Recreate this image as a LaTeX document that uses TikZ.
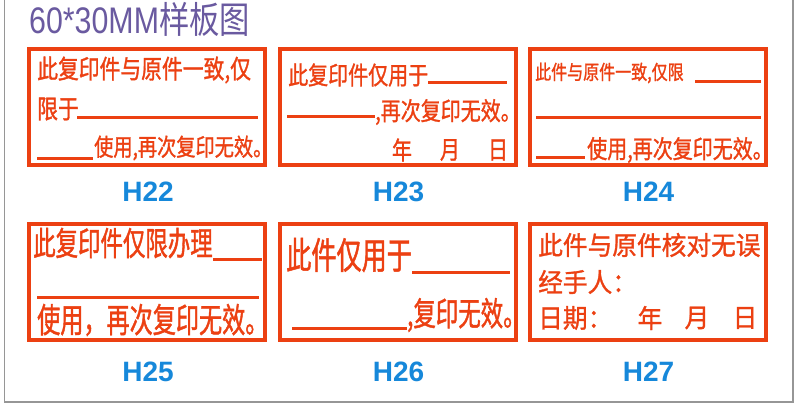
\documentclass[tikz,border=0pt]{standalone}
\usepackage{fontspec}
\setmainfont{Liberation Sans}
\newfontfamily\titlefont[FakeStretch=0.82]{Liberation Sans}
\newfontfamily\titlecjk[FakeStretch=0.82]{Noto Sans CJK SC}
\newfontfamily\cjkmid[FakeStretch=0.8, FakeBold=1.2]{Noto Sans CJK SC}
\newfontfamily\cjknarrow[FakeStretch=0.68, FakeBold=1.2]{Noto Sans CJK SC}
\newfontfamily\cjkwide[FakeStretch=0.95, FakeBold=1.2]{Noto Sans CJK SC}
\newcommand{\stampsize}[1]{\fontsize{#1}{#1}\selectfont}
\definecolor{stampred}{RGB}{236,64,18}
\definecolor{hblue}{RGB}{22,136,218}
\definecolor{titlepurple}{RGB}{106,90,160}
\definecolor{framegray}{RGB}{150,150,150}
\tikzset{
  stampbox/.style={draw=stampred, line width=4pt, minimum width=236pt, minimum height=116pt, inner sep=0},
  stamptext/.style={text=stampred, inner sep=0, anchor=west},
  blank/.style={draw=stampred, line width=3pt},
  code/.style={text=hblue, font=\bfseries\stampsize{28}, inner sep=0}
}
\begin{document}
\begin{tikzpicture}[x=1pt, y=-1pt,
  s22/.style={stamptext, font=\cjkmid\stampsize{26}},
  s23/.style={stamptext, font=\cjkmid\stampsize{25}},
  s25/.style={stamptext, font=\cjknarrow\stampsize{34}},
  s26/.style={stamptext, font=\cjknarrow\stampsize{37}},
  s27/.style={stamptext, font=\cjkwide\stampsize{26}}]
  \useasboundingbox[fill=white] (0,0) rectangle (800,406);
  \draw[framegray, line width=1.2pt] (4.5,0) -- (4.5,402) -- (793,402) -- (793,0);
  \node[anchor=base west, inner sep=0, text=titlepurple] (title) at (29,34)
    {\titlefont\stampsize{37}60*30MM\titlecjk 样板图};
  \foreach \n/\x/\y/\ly in {22/147/107/192, 23/397.5/107/192, 24/647.5/107/192,
                            25/147/281.5/372, 26/397.5/281.5/372, 27/647.5/281.5/372}{
    \node[stampbox] (b\n) at (\x,\y) {};
    \node[code] (h\n) at (\x+1,\ly) {H\n};
  }

  \node[s22] (t22a) at (37,70) {此复印件与原件一致,仅};
  \node[s22] (t22b) at (37,109) {限于};
  \draw[blank] (77,118) -- (258,118);
  \draw[blank] (37,159) -- (93,159);
  \node[s22, font=\cjkmid\stampsize{24}] (t22c) at (94,148) {使用,再次复印无效。};

  \node[s23] (t23a) at (288,75) {此复印件仅用于};
  \draw[blank] (428,83) -- (507,83);
  \draw[blank] (287,117) -- (375,117);
  \node[s23] (t23b) at (375,112) {,再次复印无效。};
  \node[s23, anchor=center] (t23y) at (402,150) {年};
  \node[s23, anchor=center] (t23m) at (450,150) {月};
  \node[s23, anchor=center] (t23d) at (498,150) {日};

  \node[stamptext, font=\cjkmid\stampsize{20}] (t24a) at (535,73) {此件与原件一致,仅限};
  \draw[blank] (695,82) -- (761,82);
  \draw[blank] (536,118) -- (761,118);
  \draw[blank] (536,158) -- (585,158);
  \node[s23] (t24b) at (587,150) {使用,再次复印无效。};

  \node[s25, font=\cjknarrow\stampsize{33}] (t25a) at (33,243) {此复印件仅限办理};
  \draw[blank] (213,259) -- (262,259);
  \draw[blank] (37,297) -- (259,297);
  \node[s25] (t25b) at (37,320) {使用，再次复印无效。};

  \node[s26] (t26a) at (286,255) {此件仅用于};
  \draw[blank] (412,272) -- (510,272);
  \draw[blank] (292,328) -- (407,328);
  \node[s26, font=\cjknarrow\stampsize{33}] (t26b) at (407,315) {,复印无效。};

  \node[s27] (t27a) at (538,245) {此件与原件核对无误};
  \node[s27] (t27b) at (538,282) {经手人：};
  \node[s27] (t27c) at (538,318) {日期：};
  \node[s27, anchor=center] (t27y) at (650,318) {年};
  \node[s27, anchor=center] (t27m) at (697,318) {月};
  \node[s27, anchor=center] (t27d) at (745,318) {日};
\end{tikzpicture}
\end{document}
